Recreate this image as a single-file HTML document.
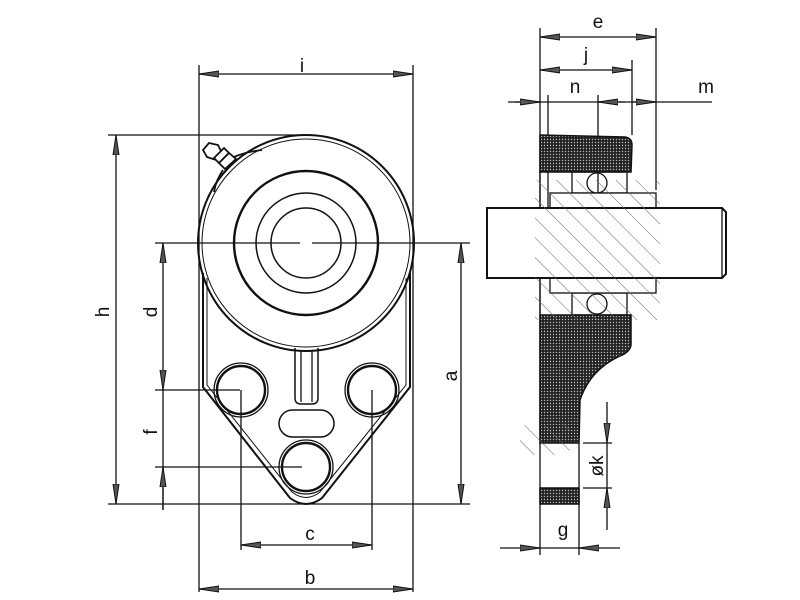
<!DOCTYPE html>
<html><head><meta charset="utf-8"><style>
html,body{margin:0;padding:0;background:#fff}
svg{display:block}
text{font-family:"Liberation Sans",sans-serif;font-size:19px;fill:#111}
</style></head><body>
<svg width="800" height="600" viewBox="0 0 800 600" xmlns="http://www.w3.org/2000/svg">
<defs>
<pattern id="dots" width="3" height="3" patternUnits="userSpaceOnUse">
<rect width="3" height="3" fill="#222"/><circle cx="1.5" cy="1.5" r="0.7" fill="#bbb"/>
</pattern>
<pattern id="hatch" width="14" height="14" patternUnits="userSpaceOnUse" patternTransform="rotate(-45)">
<line x1="0" y1="0" x2="0" y2="14" stroke="#666" stroke-width="1"/>
</pattern>
<marker id="ar" viewBox="0 0 20 8" refX="20" refY="4" markerWidth="20" markerHeight="8" markerUnits="userSpaceOnUse" orient="auto-start-reverse">
<path d="M0,1 L20,4 L0,7 Z" fill="#555" stroke="#111" stroke-width="1"/>
</marker>
</defs>
<g stroke="#111" fill="none" stroke-width="1.3">
<line x1="199" y1="65" x2="199" y2="592"/>
<line x1="413" y1="65" x2="413" y2="592"/>
<line x1="108" y1="135" x2="300" y2="135"/>
<line x1="108" y1="504" x2="470" y2="504"/>
<line x1="155" y1="243" x2="300" y2="243"/>
<line x1="312" y1="243" x2="470" y2="243"/>
<line x1="155" y1="390" x2="240" y2="390"/>
<line x1="155" y1="467" x2="302" y2="467"/>
<line x1="241" y1="390" x2="241" y2="550"/>
<line x1="372" y1="390" x2="372" y2="550"/>
<line x1="199" y1="74" x2="413" y2="74" marker-start="url(#ar)" marker-end="url(#ar)"/>
<line x1="116" y1="135" x2="116" y2="504" marker-start="url(#ar)" marker-end="url(#ar)"/>
<line x1="163" y1="243" x2="163" y2="390" marker-start="url(#ar)" marker-end="url(#ar)"/>
<line x1="163" y1="390" x2="163" y2="510"/>
<line x1="163" y1="510" x2="163" y2="467" marker-end="url(#ar)"/>
<line x1="461" y1="243" x2="461" y2="504" marker-start="url(#ar)" marker-end="url(#ar)"/>
<line x1="241" y1="545" x2="372" y2="545" marker-start="url(#ar)" marker-end="url(#ar)"/>
<line x1="199" y1="589" x2="413" y2="589" marker-start="url(#ar)" marker-end="url(#ar)"/>
<path d="M203,273 L203,387 L290,498 Q306,510 322,498 L410,387 L410,273" stroke-width="2"/>
<path d="M207,278 L207,385 L292,492 Q306,503 320,492 L406,385 L406,278" stroke-width="1"/>
<circle cx="306" cy="243" r="108" stroke-width="2"/>
<circle cx="306" cy="243" r="104" stroke-width="1"/>
<circle cx="306" cy="243" r="72" stroke-width="2.4"/>
<circle cx="306" cy="243" r="50" stroke-width="1.5"/>
<circle cx="306" cy="243" r="35" stroke-width="1.5"/>
<path d="M295,348 L295,398 Q295,404 301,404 L312,404 Q318,404 318,398 L318,348" stroke-width="1.5"/>
<line x1="301" y1="350" x2="301" y2="402"/>
<line x1="312" y1="350" x2="312" y2="402"/>
<rect x="279" y="410" width="55" height="27" rx="13.5" stroke-width="1.5"/>
<circle cx="241" cy="390" r="27" stroke-width="1.3"/>
<circle cx="241" cy="390" r="24" stroke-width="2.4"/>
<circle cx="372" cy="390" r="27" stroke-width="1.3"/>
<circle cx="372" cy="390" r="24" stroke-width="2.4"/>
<circle cx="306" cy="467" r="27" stroke-width="1.3"/>
<circle cx="306" cy="467" r="24" stroke-width="2.4"/>
<g stroke-width="1.8" fill="#fff">
<path d="M203,150 L209,143 L218,145 L222,153 L216,160 L207,157 Z"/>
<path d="M214,158 L224,148 L229,153 L219,163 Z"/>
<path d="M219,163 L229,153 L236,159 L225,169 Z"/>
<path d="M234,157 Q245,152 262,150" fill="none"/>
<path d="M223,170 Q216,180 214,192" fill="none"/>
</g>
<line x1="540" y1="28" x2="540" y2="555"/>
<line x1="656" y1="28" x2="656" y2="190"/>
<line x1="632" y1="60" x2="632" y2="135"/>
<line x1="548" y1="95" x2="548" y2="208"/>
<line x1="598" y1="95" x2="598" y2="200"/>
<line x1="540" y1="37" x2="656" y2="37" marker-start="url(#ar)" marker-end="url(#ar)"/>
<line x1="540" y1="70" x2="632" y2="70" marker-start="url(#ar)" marker-end="url(#ar)"/>
<line x1="508" y1="102" x2="712" y2="102"/>
<line x1="515" y1="102" x2="540" y2="102" marker-end="url(#ar)"/>
<line x1="625" y1="102" x2="598" y2="102" marker-end="url(#ar)"/>
<line x1="632" y1="102" x2="656" y2="102" marker-end="url(#ar)"/>
<path d="M540,135 L625,137 Q632,138 632,145 L631,172 L540,172 Z" fill="url(#dots)" stroke-width="1.5"/>
<path d="M540,315 L631,315 L631,345 Q630,352 620,356 Q590,370 580,400 L579,443 L540,443 Z" fill="url(#dots)" stroke-width="1.5"/>
<rect x="540" y="488" width="39" height="16" fill="url(#dots)" stroke-width="1.5"/>
<line x1="579" y1="443" x2="579" y2="555"/>
<line x1="540" y1="172" x2="540" y2="315"/>
<rect x="572" y="172" width="55" height="21"/>
<rect x="572" y="293" width="55" height="22"/>
<circle cx="597" cy="183" r="10"/>
<circle cx="597" cy="304" r="10"/>
<rect x="550" y="193" width="106" height="15" fill="#fff"/>
<rect x="550" y="278" width="106" height="15" fill="#fff"/>
<path d="M487,208 L722,208 L726,212 L726,274 L722,278 L487,278 Z" fill="#fff" stroke-width="2"/>
<line x1="722" y1="208" x2="722" y2="278"/>
<path d="M535,180 L660,180 L660,320 L535,320 Z" fill="url(#hatch)" stroke="none"/>
<path d="M520,425 L570,425 L570,455 L520,455 Z" fill="url(#hatch)" stroke="none"/>
<line x1="583" y1="443" x2="612" y2="443"/>
<line x1="583" y1="488" x2="612" y2="488"/>
<line x1="607" y1="402" x2="607" y2="443" marker-end="url(#ar)"/>
<line x1="607" y1="530" x2="607" y2="488" marker-end="url(#ar)"/>
<line x1="607" y1="443" x2="607" y2="488"/>
<line x1="500" y1="548" x2="540" y2="548" marker-end="url(#ar)"/>
<line x1="620" y1="548" x2="579" y2="548" marker-end="url(#ar)"/>
<line x1="540" y1="548" x2="579" y2="548"/>
</g>
<text x="302" y="72" text-anchor="middle">i</text>
<text x="310" y="540" text-anchor="middle">c</text>
<text x="310" y="584" text-anchor="middle">b</text>
<text transform="translate(109,312) rotate(-90)" text-anchor="middle">h</text>
<text transform="translate(157,312) rotate(-90)" text-anchor="middle">d</text>
<text transform="translate(157,432) rotate(-90)" text-anchor="middle">f</text>
<text transform="translate(457,376) rotate(-90)" text-anchor="middle">a</text>
<text x="598" y="28" text-anchor="middle">e</text>
<text x="586" y="61" text-anchor="middle">j</text>
<text x="575" y="93" text-anchor="middle">n</text>
<text x="706" y="93" text-anchor="middle">m</text>
<text x="563" y="536" text-anchor="middle">g</text>
<text transform="translate(603,466) rotate(-90)" text-anchor="middle">øk</text>
</svg>
</body></html>
